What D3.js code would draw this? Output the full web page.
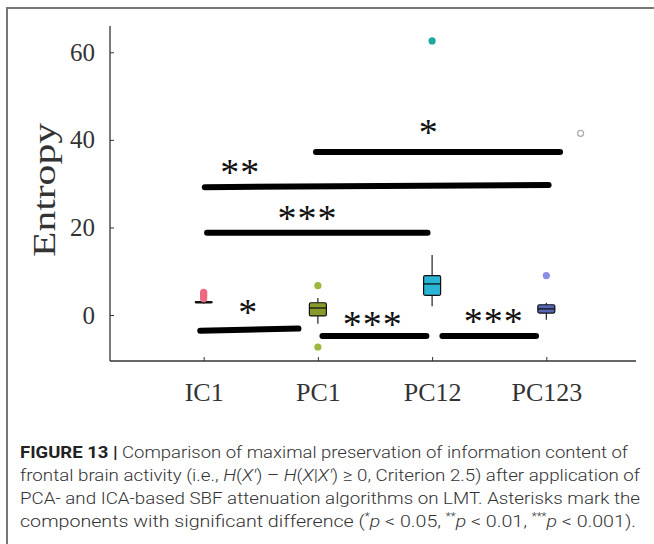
<!DOCTYPE html>
<html><head><meta charset="utf-8">
<script src="https://cdn.jsdelivr.net/npm/d3@7"></script>
<style>
html,body{margin:0;padding:0;background:#fff;}
svg{display:block;}
</style>
</head><body>
<svg id="chart" width="654" height="544"></svg>
<script>
// ---- data ----
const categories = ["IC1", "PC1", "PC12", "PC123"];
const boxColors = ["#e8667d", "#8a9a2a", "#2ab4d6", "#5566b4"];
const outlierColors = ["#ec6a82", "#9cb83a", "#1fa8a2", "#8a8fe6"];
const whiskerLow = [2.6, -2.0, 2.0, -1.1];
const q1 = [2.75, -0.2, 4.5, 0.45];
const median = [2.9, 1.6, 7.1, 1.4];
const q3 = [3.05, 2.8, 9.0, 2.35];
const whiskerHigh = [3.2, 3.9, 13.7, 2.8];
const outliers = [[3.7, 4.1, 4.5, 4.9, 5.2], [6.7, -7.3], [62.6], [9.0]];
const strayPos = [3.30];
const strayValue = [41.5];
const yTicks = [0, 20, 40, 60];

// significance bars (positions in category-index units, values in entropy units)
const sigFrom = [0.983, 0.01, 0.03, -0.03, 1.04, 2.09];
const sigTo = [3.12, 3.02, 1.96, 0.83, 1.95, 2.91];
const sigFromValue = [37.2, 29.2, 18.8, -3.6, -4.8, -4.8];
const sigToValue = [37.2, 29.7, 18.8, -3.1, -4.8, -4.8];
const sigLabels = ["*", "**", "***", "*", "***", "***"];
const sigLabelPos = [1.97, 0.32, 0.91, 0.39, 1.48, 2.54];
const sigLabelValue = [42.7, 33.6, 23.1, 1.6, -1.1, -0.5];

// ---- drawing ----
const svg = d3.select("#chart");
const serif = "'Liberation Serif','Times New Roman',serif";
const axisColor = "#333";

// figure frame
svg.append("path").attr("d", "M7,544 L7,8 L654,8")
  .attr("fill", "none").attr("stroke", "#777").attr("stroke-width", 2);

const y = d3.scaleLinear().domain([-10.5, 66]).range([361, 26]);
const x = d3.scalePoint().domain(categories).range([110, 640]).padding(0.82);
const xi = d3.scaleLinear().domain([0, 3]).range([x(categories[0]), x(categories[3])]);

const plotLeft = 110, plotRight = 636;

// axes
const gy = svg.append("g").attr("transform", `translate(${plotLeft},0)`)
  .call(d3.axisLeft(y).tickValues(yTicks).tickSize(-4).tickPadding(15).tickFormat(d3.format("d")));
gy.select(".domain").remove();
gy.selectAll(".tick line").attr("stroke", axisColor);
gy.selectAll(".tick text").attr("font-family", serif).attr("font-size", 25).attr("fill", "#333");

const gx = svg.append("g").attr("transform", `translate(0,${y.range()[0]})`)
  .call(d3.axisBottom(x).tickSize(-4).tickPadding(20));
gx.select(".domain").remove();
gx.selectAll(".tick line").attr("stroke", axisColor);
gx.selectAll(".tick text").attr("font-family", serif).attr("font-size", 26).attr("fill", "#333").attr("dy", "0.75em");

svg.append("line").attr("x1", plotLeft).attr("x2", plotLeft)
  .attr("y1", y.range()[1]).attr("y2", y.range()[0])
  .attr("stroke", axisColor).attr("stroke-width", 1.3);
svg.append("line").attr("x1", plotLeft).attr("x2", plotRight)
  .attr("y1", y.range()[0]).attr("y2", y.range()[0])
  .attr("stroke", axisColor).attr("stroke-width", 1.3);

// y label
svg.append("text")
  .attr("transform", "translate(55,190) rotate(-90)")
  .attr("text-anchor", "middle")
  .attr("font-family", serif).attr("font-size", 31).attr("fill", "#333")
  .attr("textLength", 134).attr("lengthAdjust", "spacingAndGlyphs")
  .text("Entropy");

// boxes
const boxW = 17;
const boxes = svg.append("g");
categories.forEach((c, i) => {
  const cx = x(c);
  const g = boxes.append("g");
  g.append("line").attr("x1", cx).attr("x2", cx)
    .attr("y1", y(whiskerLow[i])).attr("y2", y(whiskerHigh[i]))
    .attr("stroke", "#222").attr("stroke-width", 1.2);
  g.append("rect").attr("x", cx - boxW / 2).attr("width", boxW)
    .attr("y", y(q3[i])).attr("height", Math.max(1, y(q1[i]) - y(q3[i])))
    .attr("fill", boxColors[i]).attr("stroke", "#111").attr("stroke-width", 1.2).attr("rx", 1.5);
  g.append("line").attr("x1", cx - boxW / 2).attr("x2", cx + boxW / 2)
    .attr("y1", y(median[i])).attr("y2", y(median[i]))
    .attr("stroke", "#111").attr("stroke-width", 1.3);
  outliers[i].forEach(v => {
    g.append("circle").attr("cx", cx).attr("cy", y(v)).attr("r", 3.6)
      .attr("fill", outlierColors[i]);
  });
});

// stray open circle
strayPos.forEach((p, i) => {
  svg.append("circle").attr("cx", xi(p)).attr("cy", y(strayValue[i])).attr("r", 3)
    .attr("fill", "none").attr("stroke", "#aaa").attr("stroke-width", 1.2);
});

// significance bars
const sig = svg.append("g");
sigFrom.forEach((f, i) => {
  sig.append("line")
    .attr("x1", xi(f)).attr("x2", xi(sigTo[i]))
    .attr("y1", y(sigFromValue[i])).attr("y2", y(sigToValue[i]))
    .attr("stroke", "#000").attr("stroke-width", 6).attr("stroke-linecap", "round");
  sig.append("text")
    .attr("x", xi(sigLabelPos[i])).attr("y", y(sigLabelValue[i]) + 17)
    .attr("text-anchor", "middle")
    .attr("font-family", serif).attr("font-size", 38).attr("fill", "#111")
    .attr("letter-spacing", 1)
    .text(sigLabels[i]);
});

// caption
const cap = svg.append("g").attr("font-family", "'Roboto','Liberation Sans',Arial,sans-serif")
  .attr("font-size", 17).attr("fill", "#333").attr("font-weight", 300);
const capX = 20;
const capY = [458, 481, 504, 527];
const capLen = [608, 620, 620, 616];

let t = cap.append("text").attr("x", capX).attr("y", capY[0]).attr("textLength", capLen[0]).attr("lengthAdjust", "spacingAndGlyphs");
t.append("tspan").attr("font-weight", 700).attr("fill", "#222").text("FIGURE 13 |");
t.append("tspan").text(" Comparison of maximal preservation of information content of");

t = cap.append("text").attr("x", capX).attr("y", capY[1]).attr("textLength", capLen[1]).attr("lengthAdjust", "spacingAndGlyphs");
t.append("tspan").text("frontal brain activity (i.e., ");
t.append("tspan").attr("font-style", "italic").text("H");
t.append("tspan").text("(");
t.append("tspan").attr("font-style", "italic").text("X′");
t.append("tspan").text(") – ");
t.append("tspan").attr("font-style", "italic").text("H");
t.append("tspan").text("(");
t.append("tspan").attr("font-style", "italic").text("X");
t.append("tspan").text("|");
t.append("tspan").attr("font-style", "italic").text("X′");
t.append("tspan").text(") ≥ 0, Criterion 2.5) after application of");

cap.append("text").attr("x", capX).attr("y", capY[2]).attr("textLength", capLen[2]).attr("lengthAdjust", "spacingAndGlyphs")
  .text("PCA- and ICA-based SBF attenuation algorithms on LMT. Asterisks mark the");

t = cap.append("text").attr("x", capX).attr("y", capY[3]).attr("textLength", capLen[3]).attr("lengthAdjust", "spacingAndGlyphs");
t.append("tspan").text("components with significant difference (");
t.append("tspan").attr("font-size", 10).attr("dy", -7).text("*");
t.append("tspan").attr("font-style", "italic").attr("dy", 7).text("p");
t.append("tspan").text(" < 0.05, ");
t.append("tspan").attr("font-size", 10).attr("dy", -7).text("**");
t.append("tspan").attr("font-style", "italic").attr("dy", 7).text("p");
t.append("tspan").text(" < 0.01, ");
t.append("tspan").attr("font-size", 10).attr("dy", -7).text("***");
t.append("tspan").attr("font-style", "italic").attr("dy", 7).text("p");
t.append("tspan").text(" < 0.001).");
</script>
</body></html>
